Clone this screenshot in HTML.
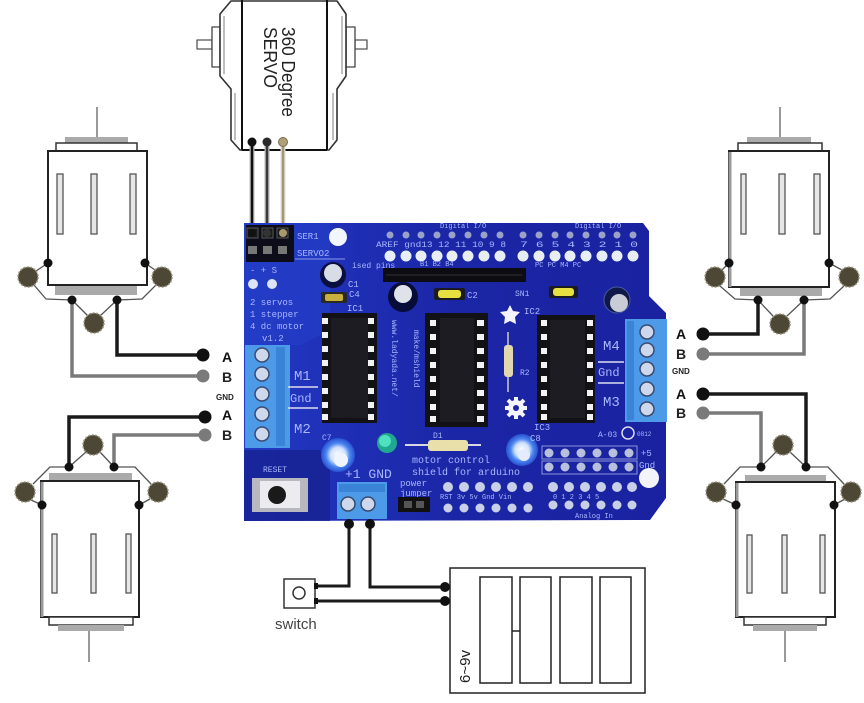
<!DOCTYPE html>
<html><head><meta charset="utf-8"><style>
html,body{margin:0;padding:0;background:#fff;}
svg{display:block;}
text{font-family:"Liberation Sans",sans-serif;}
.bt{font-family:"Liberation Mono",monospace;fill:#a9b6ff;}
</style></head><body>
<svg width="864" height="703" viewBox="0 0 864 703" xmlns="http://www.w3.org/2000/svg">
<defs>
<linearGradient id="bg" x1="0" y1="0" x2="1" y2="0">
<stop offset="0" stop-color="#2238c4"/><stop offset="0.5" stop-color="#1b26a6"/><stop offset="1" stop-color="#1a22a0"/>
</linearGradient>
<radialGradient id="bc" cx="0.5" cy="0.5" r="0.5">
<stop offset="0" stop-color="#fff"/><stop offset="0.45" stop-color="#cfe0ff"/><stop offset="0.7" stop-color="#4a86f0"/><stop offset="1" stop-color="#2a50d0"/>
</radialGradient>
</defs>
<rect width="864" height="703" fill="#fff"/>

<!-- ========== SERVO ========== -->
<g stroke-linejoin="round">
<rect x="197" y="40" width="15" height="9" fill="#fff" stroke="#555" stroke-width="1.3"/>
<rect x="212" y="27" width="8" height="40" fill="#fff" stroke="#444" stroke-width="1.3"/>
<rect x="355" y="40" width="12" height="9" fill="#fff" stroke="#555" stroke-width="1.3"/>
<rect x="346" y="27" width="9" height="40" fill="#fff" stroke="#444" stroke-width="1.3"/>
<path d="M231,1 L337,1 L346,14 L346,76 L337,89 L337,140 L329,150 L240,150 L231,140 L231,89 L220,76 L220,14 Z" fill="#fff" stroke="#333" stroke-width="1.6"/>
<path d="M235,93 L235,140 M333,93 L333,140 M224,16 L224,74 M342,16 L342,74" stroke="#aaa" stroke-width="1.5" fill="none"/>
<line x1="242" y1="0" x2="242" y2="150" stroke="#111" stroke-width="2"/>
<line x1="327" y1="0" x2="327" y2="150" stroke="#111" stroke-width="2"/>
<line x1="242" y1="150" x2="327" y2="150" stroke="#111" stroke-width="2"/>
</g>
<text transform="translate(282,27) rotate(90)" font-size="18" fill="#222" textLength="90" lengthAdjust="spacingAndGlyphs">360 Degree</text>
<text transform="translate(264,27) rotate(90)" font-size="18" fill="#222" textLength="61" lengthAdjust="spacingAndGlyphs">SERVO</text>

<!-- servo wires -->
<g fill="none">
<line x1="252" y1="142" x2="252" y2="233" stroke="#bbb" stroke-width="5"/>
<line x1="252" y1="142" x2="252" y2="233" stroke="#111" stroke-width="2.5"/>
<line x1="267" y1="142" x2="267" y2="233" stroke="#bbb" stroke-width="5"/>
<line x1="267" y1="142" x2="267" y2="233" stroke="#3a3a3a" stroke-width="2.5"/>
<line x1="283" y1="142" x2="283" y2="233" stroke="#ddd" stroke-width="5"/>
<line x1="283" y1="142" x2="283" y2="233" stroke="#a89870" stroke-width="2.5"/>
</g>
<circle cx="252" cy="142" r="4.5" fill="#111"/>
<circle cx="267" cy="142" r="4.5" fill="#2a2a2a"/>
<circle cx="283" cy="142" r="4.5" fill="#b0a078" stroke="#7a6e50" stroke-width="1"/>

<!-- ========== SHIELD ========== -->
<path d="M244,223 L643,223 L649,231 L649,296 L666,313 L666,498 L650,520 L244,521 Z" fill="url(#bg)"/>
<path d="M244,223 L330,223 L330,330 L300,345 L244,345 Z" fill="#2540c8" opacity="0.6"/>
<path d="M244,450 L320,450 L330,470 L330,521 L244,521 Z" fill="#16208a" opacity="0.7"/>

<!-- servo header block -->
<rect x="246" y="225" width="48" height="37" fill="#0d0d1a"/>
<g fill="#1a1a1a" stroke="#555" stroke-width="1">
<rect x="247" y="228" width="11" height="10"/><rect x="262" y="228" width="11" height="10"/><rect x="277" y="228" width="11" height="10"/>
</g>
<g fill="#777">
<rect x="248" y="246" width="9" height="8"/><rect x="263" y="246" width="9" height="8"/><rect x="278" y="246" width="9" height="8"/>
</g>
<circle cx="252" cy="233" r="4" fill="#111"/><circle cx="267" cy="233" r="4" fill="#333"/><circle cx="283" cy="233" r="4" fill="#a89870"/>
<text x="297" y="239" class="bt" font-size="9">SER1</text>
<text x="297" y="256" class="bt" font-size="9">SERVO2</text>
<line x1="295" y1="259" x2="345" y2="259" stroke="#8a9af0" stroke-width="1"/>
<circle cx="338" cy="237" r="9" fill="#f2f6ff"/>
<text x="250" y="273" class="bt" font-size="9">-  +  S</text>
<circle cx="253" cy="284" r="5" fill="#dde4f5"/><circle cx="272" cy="284" r="5" fill="#dde4f5"/>
<text x="250" y="305" class="bt" font-size="9">2 servos</text>
<text x="250" y="317" class="bt" font-size="9">1 stepper</text>
<text x="250" y="329" class="bt" font-size="9">4 dc motor</text>
<text x="262" y="341" class="bt" font-size="9">v1.2</text>

<!-- C1 -->
<circle cx="333" cy="275" r="13" fill="#0a0f40"/>
<circle cx="333" cy="273" r="9" fill="#d8dce6"/>
<text x="348" y="287" class="bt" font-size="9">C1</text>
<text x="352" y="268" class="bt" font-size="8">ised pins</text>
<!-- C4 -->
<rect x="321" y="292" width="26" height="11" rx="2" fill="#2a2a20"/>
<rect x="325" y="294" width="18" height="7" rx="2" fill="#c8b040"/>
<text x="349" y="297" class="bt" font-size="9">C4</text>
<text x="347" y="311" class="bt" font-size="9">IC1</text>

<!-- big cap C3 -->
<circle cx="403" cy="297" r="15" fill="#080c38"/>
<circle cx="403" cy="294" r="9" fill="#e0e2ea"/>

<!-- top headers -->
<g fill="#9aa2c8">
<circle cx="390" cy="235" r="3.5"/><circle cx="406" cy="235" r="3.5"/><circle cx="421" cy="235" r="3.5"/><circle cx="437" cy="235" r="3.5"/><circle cx="452" cy="235" r="3.5"/><circle cx="468" cy="235" r="3.5"/><circle cx="484" cy="235" r="3.5"/><circle cx="500" cy="235" r="3.5"/>
<circle cx="523" cy="235" r="3.5"/><circle cx="539" cy="235" r="3.5"/><circle cx="555" cy="235" r="3.5"/><circle cx="570" cy="235" r="3.5"/><circle cx="586" cy="235" r="3.5"/><circle cx="602" cy="235" r="3.5"/><circle cx="617" cy="235" r="3.5"/><circle cx="633" cy="235" r="3.5"/>
</g>
<g fill="#e8eef8">
<circle cx="390" cy="256" r="5.5"/><circle cx="406" cy="256" r="5.5"/><circle cx="421" cy="256" r="5.5"/><circle cx="437" cy="256" r="5.5"/><circle cx="452" cy="256" r="5.5"/><circle cx="468" cy="256" r="5.5"/><circle cx="484" cy="256" r="5.5"/><circle cx="500" cy="256" r="5.5"/>
<circle cx="523" cy="256" r="5.5"/><circle cx="539" cy="256" r="5.5"/><circle cx="555" cy="256" r="5.5"/><circle cx="570" cy="256" r="5.5"/><circle cx="586" cy="256" r="5.5"/><circle cx="602" cy="256" r="5.5"/><circle cx="617" cy="256" r="5.5"/><circle cx="633" cy="256" r="5.5"/>
</g>
<text x="376" y="247" class="bt" font-size="8" textLength="130" lengthAdjust="spacingAndGlyphs">AREF gnd13 12 11 10  9  8</text>
<text x="520" y="247" class="bt" font-size="8" textLength="118" lengthAdjust="spacingAndGlyphs">7  6  5  4  3  2  1  0</text>
<text x="440" y="228" class="bt" font-size="7">Digital I/O</text>
<text x="575" y="228" class="bt" font-size="7">Digital I/O</text>
<!-- black header strip -->
<rect x="383" y="268" width="143" height="14" fill="#0c0c12"/>
<line x1="386" y1="275" x2="522" y2="275" stroke="#333" stroke-width="1"/>
<text x="420" y="266" class="bt" font-size="7">B1 B2 B4</text>
<text x="535" y="267" class="bt" font-size="7">PC PC M4 PC</text>

<!-- C2, C6 -->
<rect x="434" y="288" width="31" height="12" rx="2" fill="#1a1a20"/>
<rect x="438" y="290" width="23" height="8" rx="3" fill="#e6e040"/>
<text x="467" y="298" class="bt" font-size="9">C2</text>
<rect x="549" y="286" width="29" height="12" rx="2" fill="#1a1a20"/>
<rect x="553" y="288" width="21" height="8" rx="3" fill="#e6e040"/>
<text x="515" y="296" class="bt" font-size="8">SN1</text>
<!-- right big cap -->
<circle cx="617" cy="300" r="13" fill="#101848" stroke="#4a5aa0" stroke-width="1"/>
<circle cx="619" cy="303" r="9" fill="#c8ccd6"/>

<!-- IC1 -->
<rect x="322" y="313" width="55" height="110" fill="#121216"/>
<rect x="331" y="318" width="37" height="100" fill="#1c1c22"/>
<g fill="#f2f2f2">
<rect x="322" y="318" width="6" height="6"/><rect x="322" y="332" width="6" height="6"/><rect x="322" y="346" width="6" height="6"/><rect x="322" y="360" width="6" height="6"/><rect x="322" y="374" width="6" height="6"/><rect x="322" y="388" width="6" height="6"/><rect x="322" y="402" width="6" height="6"/><rect x="322" y="414" width="6" height="6"/>
<rect x="368" y="318" width="6" height="6"/><rect x="368" y="332" width="6" height="6"/><rect x="368" y="346" width="6" height="6"/><rect x="368" y="360" width="6" height="6"/><rect x="368" y="374" width="6" height="6"/><rect x="368" y="388" width="6" height="6"/><rect x="368" y="402" width="6" height="6"/><rect x="368" y="414" width="6" height="6"/>
</g>
<!-- IC2 -->
<rect x="425" y="313" width="63" height="114" fill="#121216"/>
<rect x="440" y="318" width="34" height="104" fill="#1c1c22"/>
<g fill="#f2f2f2">
<rect x="430" y="320" width="6" height="6"/><rect x="430" y="334" width="6" height="6"/><rect x="430" y="348" width="6" height="6"/><rect x="430" y="362" width="6" height="6"/><rect x="430" y="376" width="6" height="6"/><rect x="430" y="390" width="6" height="6"/><rect x="430" y="404" width="6" height="6"/><rect x="430" y="416" width="6" height="6"/>
<rect x="477" y="320" width="7" height="6"/><rect x="477" y="334" width="7" height="6"/><rect x="477" y="348" width="7" height="6"/><rect x="477" y="362" width="7" height="6"/><rect x="477" y="376" width="7" height="6"/><rect x="477" y="390" width="7" height="6"/><rect x="477" y="404" width="7" height="6"/><rect x="477" y="416" width="7" height="6"/>
</g>
<!-- IC3 -->
<rect x="537" y="315" width="58" height="108" fill="#121216"/>
<rect x="550" y="320" width="35" height="98" fill="#1c1c22"/>
<g fill="#f2f2f2">
<rect x="541" y="320" width="6" height="6"/><rect x="541" y="334" width="6" height="6"/><rect x="541" y="348" width="6" height="6"/><rect x="541" y="362" width="6" height="6"/><rect x="541" y="376" width="6" height="6"/><rect x="541" y="390" width="6" height="6"/><rect x="541" y="404" width="6" height="6"/><rect x="541" y="414" width="6" height="6"/>
<rect x="587" y="320" width="6" height="6"/><rect x="587" y="334" width="6" height="6"/><rect x="587" y="348" width="6" height="6"/><rect x="587" y="362" width="6" height="6"/><rect x="587" y="376" width="6" height="6"/><rect x="587" y="390" width="6" height="6"/><rect x="587" y="404" width="6" height="6"/><rect x="587" y="414" width="6" height="6"/>
</g>
<text transform="translate(392,320) rotate(90)" class="bt" font-size="8">www.ladyada.net/</text>
<text transform="translate(414,330) rotate(90)" class="bt" font-size="8">make/mshield</text>

<!-- star & gear -->
<path d="M510,305 L513,311 L520,312 L515,317 L516,324 L510,321 L504,324 L505,317 L500,312 L507,311 Z" fill="#f4f4ff"/>
<text x="524" y="314" class="bt" font-size="9">IC2</text>
<circle cx="516" cy="408" r="8" fill="#f4f4ff"/>
<g stroke="#f4f4ff" stroke-width="4"><line x1="516" y1="397" x2="516" y2="419"/><line x1="505" y1="408" x2="527" y2="408"/><line x1="508" y1="400" x2="524" y2="416"/><line x1="524" y1="400" x2="508" y2="416"/></g>
<circle cx="516" cy="408" r="3" fill="#1b26a6"/>
<!-- vertical resistor -->
<line x1="508" y1="332" x2="508" y2="392" stroke="#ccc" stroke-width="1.5"/>
<rect x="504" y="345" width="9" height="32" rx="3" fill="#e2d8b0"/>
<text x="520" y="375" class="bt" font-size="8">R2</text>

<!-- left terminal block -->
<rect x="245" y="345" width="45" height="103" fill="#4c9ae8"/>
<rect x="276" y="347" width="9" height="99" fill="#3a84d8"/>
<g fill="#cdd8ec" stroke="#3a4a70" stroke-width="1.5">
<circle cx="262" cy="355" r="7"/><circle cx="262" cy="374" r="7"/><circle cx="262" cy="394" r="7"/><circle cx="262" cy="414" r="7"/><circle cx="262" cy="434" r="7"/>
</g>
<text x="294" y="380" class="bt" font-size="14">M1</text>
<line x1="288" y1="387" x2="318" y2="387" stroke="#dde" stroke-width="1.5"/>
<text x="290" y="402" class="bt" font-size="12">Gnd</text>
<line x1="288" y1="408" x2="318" y2="408" stroke="#dde" stroke-width="1.5"/>
<text x="294" y="433" class="bt" font-size="14">M2</text>

<!-- right terminal block -->
<rect x="625" y="319" width="42" height="103" fill="#4c9ae8"/>
<rect x="627" y="321" width="7" height="99" fill="#3a84d8"/>
<g fill="#cdd8ec" stroke="#3a4a70" stroke-width="1.5">
<circle cx="647" cy="332" r="7"/><circle cx="647" cy="350" r="7"/><circle cx="647" cy="369" r="7"/><circle cx="647" cy="389" r="7"/><circle cx="647" cy="409" r="7"/>
</g>
<text x="603" y="350" class="bt" font-size="14">M4</text>
<line x1="598" y1="362" x2="624" y2="362" stroke="#dde" stroke-width="1.5"/>
<text x="598" y="376" class="bt" font-size="12">Gnd</text>
<line x1="598" y1="383" x2="624" y2="383" stroke="#dde" stroke-width="1.5"/>
<text x="603" y="406" class="bt" font-size="14">M3</text>
<text x="598" y="437" class="bt" font-size="8" fill="#fff">A-03</text>
<circle cx="628" cy="433" r="6" fill="none" stroke="#dde" stroke-width="1.5"/>
<text x="637" y="436" class="bt" font-size="6">0812</text>

<!-- blue caps, LED, D1 -->
<circle cx="338" cy="455" r="17" fill="url(#bc)"/>
<circle cx="341" cy="460" r="7" fill="#f0f4ff"/>
<text x="322" y="440" class="bt" font-size="8">C7</text>
<circle cx="522" cy="450" r="16" fill="url(#bc)"/>
<circle cx="524" cy="455" r="6" fill="#e6ecff"/>
<text x="530" y="441" class="bt" font-size="9">C8</text>
<text x="534" y="430" class="bt" font-size="9">IC3</text>
<circle cx="387" cy="443" r="10" fill="#20a890"/>
<circle cx="385" cy="441" r="6" fill="#50e0c0"/>
<line x1="405" y1="445" x2="481" y2="445" stroke="#d8d8e0" stroke-width="2"/>
<rect x="428" y="440" width="40" height="11" rx="3" fill="#e8e0a8"/>
<text x="433" y="438" class="bt" font-size="8">D1</text>
<text x="412" y="463" class="bt" font-size="10">motor control</text>
<text x="412" y="475" class="bt" font-size="10">shield for arduino</text>

<!-- reset -->
<text x="263" y="472" class="bt" font-size="8">RESET</text>
<rect x="252" y="478" width="56" height="34" fill="#b8b8c0"/>
<rect x="260" y="481" width="40" height="27" fill="#ececf0"/>
<circle cx="277" cy="495" r="9" fill="#1a1a1a"/>

<!-- power terminal -->
<text x="345" y="478" class="bt" font-size="13">+1 GND</text>
<rect x="337" y="482" width="50" height="37" fill="#4c9ae8"/>
<rect x="339" y="484" width="46" height="8" fill="#3a84d8"/>
<g fill="#cdd8ec" stroke="#3a4a70" stroke-width="1.5"><circle cx="348" cy="504" r="7"/><circle cx="368" cy="504" r="7"/></g>
<text x="400" y="486" class="bt" font-size="9">power</text>
<text x="400" y="496" class="bt" font-size="9">jumper</text>
<rect x="398" y="497" width="32" height="15" fill="#111"/>
<rect x="404" y="501" width="8" height="7" fill="#555"/><rect x="416" y="501" width="8" height="7" fill="#555"/>

<!-- bottom headers -->
<g fill="#c8d0e8">
<circle cx="448" cy="487" r="5"/><circle cx="464" cy="487" r="5"/><circle cx="480" cy="487" r="5"/><circle cx="496" cy="487" r="5"/><circle cx="512" cy="487" r="5"/><circle cx="528" cy="487" r="5"/>
<circle cx="448" cy="508" r="4.5"/><circle cx="464" cy="508" r="4.5"/><circle cx="480" cy="508" r="4.5"/><circle cx="496" cy="508" r="4.5"/><circle cx="512" cy="508" r="4.5"/><circle cx="528" cy="508" r="4.5"/>
<circle cx="553" cy="487" r="5"/><circle cx="569" cy="487" r="5"/><circle cx="585" cy="487" r="5"/><circle cx="601" cy="487" r="5"/><circle cx="617" cy="487" r="5"/><circle cx="632" cy="487" r="5"/>
<circle cx="553" cy="505" r="4.5"/><circle cx="569" cy="505" r="4.5"/><circle cx="585" cy="505" r="4.5"/><circle cx="601" cy="505" r="4.5"/><circle cx="617" cy="505" r="4.5"/><circle cx="632" cy="505" r="4.5"/>
</g>
<text x="440" y="499" class="bt" font-size="7">RST 3v  5v  Gnd  Vin</text>
<text x="553" y="499" class="bt" font-size="7">0  1  2  3  4  5</text>
<text x="575" y="518" class="bt" font-size="7">Analog In</text>
<rect x="542" y="446" width="95" height="13" fill="none" stroke="#8a96d8" stroke-width="1"/>
<rect x="542" y="461" width="95" height="13" fill="none" stroke="#8a96d8" stroke-width="1"/>
<g fill="#b8c0dc">
<circle cx="549" cy="453" r="4.5"/><circle cx="565" cy="453" r="4.5"/><circle cx="581" cy="453" r="4.5"/><circle cx="597" cy="453" r="4.5"/><circle cx="613" cy="453" r="4.5"/><circle cx="629" cy="453" r="4.5"/>
<circle cx="549" cy="467" r="4.5"/><circle cx="565" cy="467" r="4.5"/><circle cx="581" cy="467" r="4.5"/><circle cx="597" cy="467" r="4.5"/><circle cx="613" cy="467" r="4.5"/><circle cx="629" cy="467" r="4.5"/>
</g>
<text x="641" y="456" class="bt" font-size="9">+5</text>
<text x="639" y="468" class="bt" font-size="9">Gnd</text>
<circle cx="649" cy="478" r="10" fill="#f2f4fa"/>

<!-- ========== POWER WIRING ========== -->
<g fill="none" stroke-width="3" stroke="#1a1a1a">
<polyline points="349,524 349,586 317,586"/>
<polyline points="370,524 370,587 443,587"/>
<polyline points="317,601 443,601"/>
</g>
<circle cx="349" cy="524" r="5" fill="#111"/>
<circle cx="370" cy="524" r="5" fill="#111"/>
<rect x="284" y="579" width="31" height="29" fill="#fff" stroke="#333" stroke-width="1.5"/>
<circle cx="299" cy="593" r="6" fill="none" stroke="#333" stroke-width="1.5"/>
<rect x="314" y="583" width="4" height="6" fill="#111"/>
<rect x="314" y="598" width="4" height="6" fill="#111"/>
<text x="275" y="629" font-size="15" fill="#444">switch</text>
<!-- battery -->
<rect x="450" y="568" width="195" height="125" fill="#fff" stroke="#222" stroke-width="1.5"/>
<rect x="480" y="577" width="32" height="106" fill="#fff" stroke="#222" stroke-width="1.5"/>
<rect x="520" y="577" width="31" height="106" fill="#fff" stroke="#222" stroke-width="1.5"/>
<rect x="560" y="577" width="32" height="106" fill="#fff" stroke="#222" stroke-width="1.5"/>
<rect x="600" y="577" width="31" height="106" fill="#fff" stroke="#222" stroke-width="1.5"/>
<line x1="512" y1="631" x2="520" y2="631" stroke="#222" stroke-width="1.5"/>
<text transform="translate(470,683) rotate(-90)" font-size="15" fill="#222">6~9v</text>
<circle cx="445" cy="587" r="5" fill="#111"/>
<circle cx="445" cy="601" r="5" fill="#111"/>

<!-- ========== MOTOR: top-left ========== -->
<line x1="97" y1="107" x2="97" y2="138" stroke="#999" stroke-width="2"/>
<rect x="65" y="137" width="63" height="6" fill="#aaa"/>
<rect x="56" y="143" width="81" height="8" fill="#fff" stroke="#333" stroke-width="1.5"/>
<rect x="48" y="151" width="99" height="134" fill="#fff" stroke="#222" stroke-width="2"/>
<g fill="#e6e6e6" stroke="#555" stroke-width="1.3">
<rect x="57" y="174" width="6" height="60"/><rect x="91" y="174" width="6" height="60"/><rect x="130" y="174" width="6" height="60"/>
</g>
<rect x="55" y="286" width="82" height="9" fill="#aaa"/>
<g fill="none" stroke="#555" stroke-width="1.3">
<polyline points="36,271 48,263"/><polyline points="34,285 46,299 72,300"/>
<polyline points="72,300 88,316"/><polyline points="100,316 117,300"/>
<polyline points="155,270 145,263"/><polyline points="156,285 142,299 117,300"/>
</g>
<g fill="none">
<polyline points="117,300 117,355 203,355" stroke="#1a1a1a" stroke-width="3.5"/>
<polyline points="72,300 72,376 203,376" stroke="#7a7a7a" stroke-width="3.5"/>
</g>
<g fill="#4d4836" stroke="#9a9480" stroke-width="1.5" stroke-dasharray="2 1.5">
<circle cx="28" cy="277" r="10"/><circle cx="162" cy="277" r="10"/><circle cx="94" cy="323" r="10"/>
</g>
<g fill="#111"><circle cx="48" cy="263" r="4.5"/><circle cx="145" cy="263" r="4.5"/><circle cx="72" cy="300" r="4.5"/><circle cx="117" cy="300" r="4.5"/></g>
<circle cx="203" cy="355" r="6.5" fill="#111"/>
<circle cx="203" cy="376" r="6.5" fill="#7a7a7a"/>
<text x="222" y="362" font-size="14" font-weight="bold" fill="#111">A</text>
<text x="222" y="382" font-size="14" font-weight="bold" fill="#222">B</text>
<text x="216" y="400" font-size="8" font-weight="bold" fill="#222">GND</text>
<text x="222" y="420" font-size="14" font-weight="bold" fill="#111">A</text>
<text x="222" y="440" font-size="14" font-weight="bold" fill="#222">B</text>

<!-- ========== MOTOR: bottom-left ========== -->
<g fill="none">
<polyline points="205,417 69,417 69,467" stroke="#1a1a1a" stroke-width="3.5"/>
<polyline points="205,435 114,435 114,467" stroke="#7a7a7a" stroke-width="3.5"/>
</g>
<circle cx="205" cy="417" r="6.5" fill="#111"/>
<circle cx="205" cy="435" r="6.5" fill="#7a7a7a"/>
<rect x="49" y="473" width="83" height="8" fill="#aaa"/>
<rect x="41" y="481" width="98" height="136" fill="#fff" stroke="#222" stroke-width="2"/>
<line x1="42" y1="482" x2="42" y2="617" stroke="#999" stroke-width="3"/>
<g fill="#e6e6e6" stroke="#555" stroke-width="1.3">
<rect x="52" y="534" width="5" height="59"/><rect x="91" y="534" width="5" height="59"/><rect x="126" y="534" width="5" height="59"/>
</g>
<rect x="49" y="617" width="84" height="8" fill="#fff" stroke="#333" stroke-width="1.5"/>
<rect x="58" y="625" width="66" height="6" fill="#aaa"/>
<line x1="89" y1="631" x2="89" y2="662" stroke="#999" stroke-width="2"/>
<g fill="none" stroke="#555" stroke-width="1.3">
<polyline points="69,467 50,467 33,484"/><polyline points="31,500 42,505"/>
<polyline points="69,467 86,452"/><polyline points="100,452 114,467"/>
<polyline points="114,467 135,467 151,484"/><polyline points="150,499 139,505"/>
</g>
<g fill="#4d4836" stroke="#9a9480" stroke-width="1.5" stroke-dasharray="2 1.5">
<circle cx="25" cy="492" r="10"/><circle cx="158" cy="492" r="10"/><circle cx="93" cy="445" r="10"/>
</g>
<g fill="#111"><circle cx="42" cy="505" r="4.5"/><circle cx="139" cy="505" r="4.5"/><circle cx="69" cy="467" r="4.5"/><circle cx="114" cy="467" r="4.5"/></g>

<!-- ========== MOTOR: top-right ========== -->
<line x1="780" y1="107" x2="780" y2="138" stroke="#999" stroke-width="2"/>
<rect x="747" y="137" width="64" height="6" fill="#aaa"/>
<rect x="738" y="143" width="84" height="8" fill="#fff" stroke="#333" stroke-width="1.5"/>
<rect x="729" y="151" width="100" height="136" fill="#fff" stroke="#222" stroke-width="2"/>
<line x1="730" y1="152" x2="730" y2="287" stroke="#999" stroke-width="3"/>
<g fill="#e6e6e6" stroke="#555" stroke-width="1.3">
<rect x="741" y="174" width="5" height="60"/><rect x="779" y="174" width="6" height="60"/><rect x="814" y="174" width="6" height="60"/>
</g>
<rect x="740" y="288" width="82" height="8" fill="#aaa"/>
<g fill="none" stroke="#555" stroke-width="1.3">
<polyline points="722,270 729,263"/><polyline points="720,286 735,299 758,300"/>
<polyline points="758,300 773,316"/><polyline points="787,316 804,300"/>
<polyline points="842,270 829,263"/><polyline points="844,286 830,299 804,300"/>
</g>
<g fill="none">
<polyline points="758,300 758,334 703,334" stroke="#1a1a1a" stroke-width="3.5"/>
<polyline points="804,300 804,354 703,354" stroke="#7a7a7a" stroke-width="3.5"/>
</g>
<g fill="#4d4836" stroke="#9a9480" stroke-width="1.5" stroke-dasharray="2 1.5">
<circle cx="715" cy="277" r="10"/><circle cx="849" cy="277" r="10"/><circle cx="780" cy="324" r="10"/>
</g>
<g fill="#111"><circle cx="729" cy="263" r="4.5"/><circle cx="829" cy="263" r="4.5"/><circle cx="758" cy="300" r="4.5"/><circle cx="804" cy="300" r="4.5"/></g>
<circle cx="703" cy="334" r="6.5" fill="#111"/>
<circle cx="703" cy="354" r="6.5" fill="#7a7a7a"/>
<text x="676" y="339" font-size="14" font-weight="bold" fill="#111">A</text>
<text x="676" y="359" font-size="14" font-weight="bold" fill="#222">B</text>
<text x="672" y="374" font-size="8" font-weight="bold" fill="#222">GND</text>
<text x="676" y="399" font-size="14" font-weight="bold" fill="#111">A</text>
<text x="676" y="418" font-size="14" font-weight="bold" fill="#222">B</text>

<!-- ========== MOTOR: bottom-right ========== -->
<g fill="none">
<polyline points="703,394 806,394 806,467" stroke="#1a1a1a" stroke-width="3.5"/>
<polyline points="703,413 761,413 761,467" stroke="#7a7a7a" stroke-width="3.5"/>
</g>
<circle cx="703" cy="394" r="6.5" fill="#111"/>
<circle cx="703" cy="413" r="6.5" fill="#7a7a7a"/>
<rect x="745" y="475" width="81" height="7" fill="#aaa"/>
<rect x="736" y="482" width="99" height="135" fill="#fff" stroke="#222" stroke-width="2"/>
<line x1="737" y1="483" x2="737" y2="617" stroke="#999" stroke-width="3"/>
<g fill="#e6e6e6" stroke="#555" stroke-width="1.3">
<rect x="747" y="535" width="5" height="58"/><rect x="782" y="535" width="5" height="58"/><rect x="820" y="535" width="5" height="58"/>
</g>
<rect x="744" y="617" width="82" height="8" fill="#fff" stroke="#333" stroke-width="1.5"/>
<rect x="753" y="625" width="64" height="6" fill="#aaa"/>
<line x1="785" y1="631" x2="785" y2="662" stroke="#999" stroke-width="2"/>
<g fill="none" stroke="#555" stroke-width="1.3">
<polyline points="761,467 740,467 724,484"/><polyline points="723,499 736,505"/>
<polyline points="761,467 776,452"/><polyline points="790,452 806,467"/>
<polyline points="806,467 828,467 844,484"/><polyline points="845,499 834,505"/>
</g>
<g fill="#4d4836" stroke="#9a9480" stroke-width="1.5" stroke-dasharray="2 1.5">
<circle cx="716" cy="492" r="10"/><circle cx="851" cy="492" r="10"/><circle cx="783" cy="445" r="10"/>
</g>
<g fill="#111"><circle cx="736" cy="505" r="4.5"/><circle cx="834" cy="505" r="4.5"/><circle cx="761" cy="467" r="4.5"/><circle cx="806" cy="467" r="4.5"/></g>
</svg>
</body></html>
